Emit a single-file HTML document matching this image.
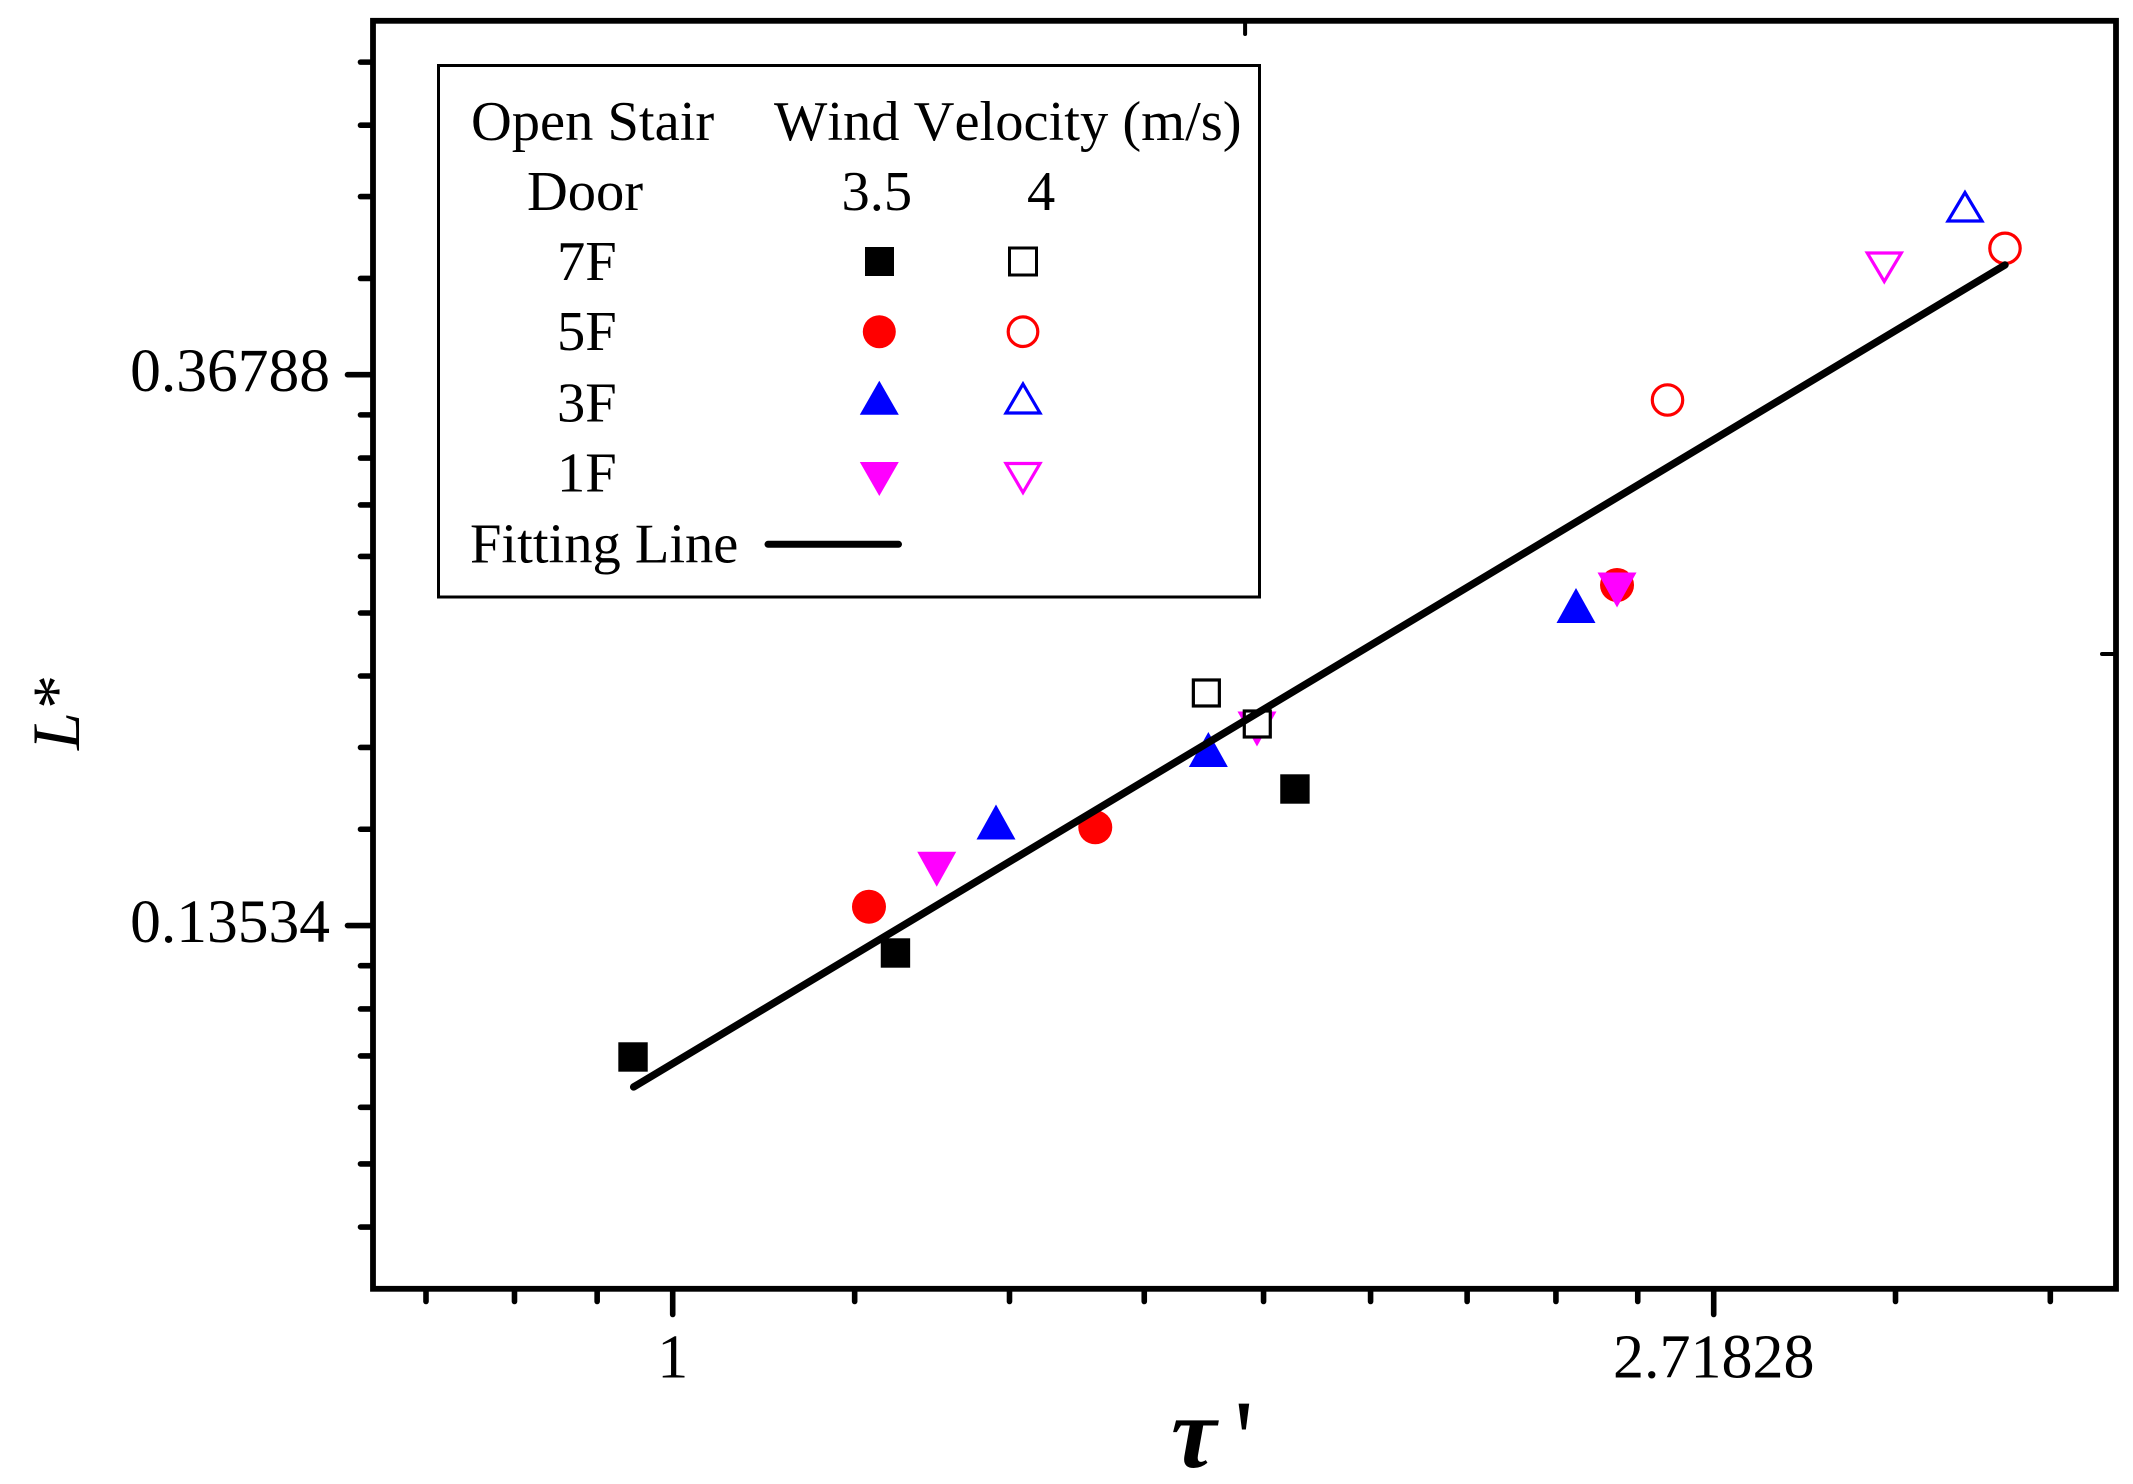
<!DOCTYPE html>
<html lang="en">
<head>
<meta charset="utf-8">
<title>L* versus tau prime</title>
<style>
  html, body { margin: 0; padding: 0; background: #fff; }
  svg { display: block; }
  text { font-family: "Liberation Serif", "DejaVu Serif", serif; fill: #000; font-kerning: none; font-variant-ligatures: none; }
</style>
</head>
<body>
<svg id="chart" xmlns="http://www.w3.org/2000/svg" width="2133" height="1484" viewBox="0 0 2133 1484">
  <rect x="0" y="0" width="2133" height="1484" fill="#fff"/>
  <g id="ticks"></g>
  <g id="marks"></g>
  <rect x="373" y="20.8" width="1743" height="1268" fill="none" stroke="#000" stroke-width="5.8"/>
  <g id="tick-labels"></g>

  <text transform="translate(79 750) rotate(-90)" font-size="68" font-style="italic">L*</text>
  <text x="1171" y="1467" font-size="102" font-style="italic" font-weight="bold">τ</text>
  <text x="1234" y="1476" font-size="110">'</text>

  <g>
    <rect x="438.5" y="65.5" width="821" height="531.5" fill="#fff" stroke="#000" stroke-width="3"/>
    <g font-size="56.5">
      <text x="471" y="140">Open Stair</text>
      <text x="774" y="140">Wind Velocity (m/s)</text>
      <text x="527" y="210">Door</text>
      <text x="841.5" y="210">3.5</text>
      <text x="1027" y="210">4</text>
      <text x="557" y="280">7F</text>
      <text x="557" y="350">5F</text>
      <text x="557" y="421.5">3F</text>
      <text x="557" y="491.5">1F</text>
      <text x="470" y="562.5">Fitting Line</text>
    </g>
    <rect x="865" y="247" width="29" height="29" fill="#000"/>
    <rect x="1009.5" y="248" width="27" height="27" fill="#fff" stroke="#000" stroke-width="3"/>
    <circle cx="879.3" cy="331.7" r="16.5" fill="#f00"/>
    <circle cx="1023" cy="331.7" r="14.8" fill="#fff" stroke="#f00" stroke-width="3.2"/>
    <polygon points="879.3,380.7 898.8,414.7 859.8,414.7" fill="#00f"/>
    <polygon points="1023,384 1040,413 1006,413" fill="#fff" stroke="#00f" stroke-width="3.2"/>
    <polygon points="859.8,462 898.8,462 879.3,496" fill="#f0f"/>
    <polygon points="1006,463.5 1040,463.5 1023,492.5" fill="#fff" stroke="#f0f" stroke-width="3.2"/>
    <line x1="768" y1="544.3" x2="898.5" y2="544.3" stroke="#000" stroke-width="7" stroke-linecap="round"/>
  </g>
</svg>
<script>
// Axis tick values (natural-log axes)
const xMajorTicks = [1, 2.71828];
const xMajorLabels = ["1", "2.71828"];
const xMinorTicks = [0.789, 0.859, 0.93, 1.191, 1.382, 1.573, 1.764, 1.955, 2.145, 2.336, 2.527, 3.237, 3.756];
const yMajorTicks = [0.36788, 0.13534];
const yMajorLabels = ["0.36788", "0.13534"];
const yMinorTicks = [0.6488, 0.5786, 0.5083, 0.4381, 0.3420, 0.3162, 0.2904, 0.2645, 0.2387, 0.2129, 0.1870, 0.1612, 0.12583, 0.11633, 0.10682, 0.09731, 0.08781, 0.0783];
const xStrayTick = [1.733];
const yStrayTick = [0.2216];

// Series: tau' values and L* values
const tau7F35 = [0.9626, 1.2386, 1.8180];
const lum7F35 = [0.10662, 0.12877, 0.17342];
const tau5F35 = [1.2075, 1.5007, 2.4772];
const lum5F35 = [0.14006, 0.16177, 0.25114];
const tau3F35 = [1.3642, 1.6729, 2.3815];
const lum3F35 = [0.16334, 0.18631, 0.24197];
const tau1F35 = [1.2887, 1.7529, 2.4772];
const lum1F35 = [0.14990, 0.19338, 0.24888];
const tau7F4 = [1.6697, 1.7534];
const lum7F4 = [0.20644, 0.19514];
const tau5F4 = [2.6003, 3.5960];
const lum5F4 = [0.35137, 0.46275];
const tau3F4 = [3.4604];
const lum3F4 = [0.49966];
const tau1F4 = [3.2023];
const lum1F4 = [0.44651];
const fitTau = [0.9632, 3.5960];
const fitLum = [0.10097, 0.44894];

const NS = "http://www.w3.org/2000/svg";
function xScale(v) { return 672.7 + 1041 * Math.log(v); }
function yScale(v) { return 374.7 + 550.9 * (-1 - Math.log(v)); }
function make(tag, attrs, parent) {
  const el = document.createElementNS(NS, tag);
  for (const k in attrs) el.setAttribute(k, attrs[k]);
  parent.appendChild(el);
  return el;
}

const tickGroup = document.getElementById("ticks");
const labelGroup = document.getElementById("tick-labels");
const markGroup = document.getElementById("marks");
const tickStyle = { stroke: "#000", "stroke-width": 5.6, "stroke-linecap": "round" };

xMinorTicks.forEach(function (v) {
  const el = make("line", Object.assign({ x1: xScale(v), x2: xScale(v), y1: 1290, y2: 1301.5 }, tickStyle), tickGroup);
  
  
});
xMajorTicks.forEach(function (v, i) {
  const el = make("line", Object.assign({ x1: xScale(v), x2: xScale(v), y1: 1290, y2: 1314.5 }, tickStyle), tickGroup);
  
  
  const t = make("text", { x: xScale(v), y: 1377.5, "font-size": 62, "text-anchor": "middle" }, labelGroup);
  t.textContent = xMajorLabels[i];
  
  
});
yMinorTicks.forEach(function (v) {
  const el = make("line", Object.assign({ x1: 372, x2: 360.5, y1: yScale(v), y2: yScale(v) }, tickStyle), tickGroup);
  
  
});
yMajorTicks.forEach(function (v, i) {
  const tick = make("line", Object.assign({ x1: 372, x2: 347.5, y1: yScale(v), y2: yScale(v) }, tickStyle), tickGroup);
  
  
  const t = make("text", { x: 330, y: yScale(v) + 16.5, "font-size": 61.5, "text-anchor": "end" }, labelGroup);
  t.textContent = yMajorLabels[i];
  
  
});
xStrayTick.forEach(function (v) {
  const el = make("line", { x1: xScale(v), x2: xScale(v), y1: 23, y2: 34, stroke: "#000", "stroke-width": 4, "stroke-linecap": "round" }, tickGroup);
  
  
});
yStrayTick.forEach(function (v) {
  const el = make("line", { x1: 2114, x2: 2102, y1: yScale(v), y2: yScale(v), stroke: "#000", "stroke-width": 4, "stroke-linecap": "round" }, tickGroup);
  
  
});

function solidSquare(taus, lums, name) {
  taus.forEach(function (t, i) {
    const cx = xScale(t), cy = yScale(lums[i]);
    const el = make("rect", { x: cx - 14.7, y: cy - 14.7, width: 29.4, height: 29.4, fill: "#000" }, markGroup);
    
    
  });
}
function openSquare(taus, lums, name) {
  taus.forEach(function (t, i) {
    const cx = xScale(t), cy = yScale(lums[i]);
    const el = make("rect", { x: cx - 13, y: cy - 13, width: 26, height: 26, fill: "#fff", stroke: "#000", "stroke-width": 3.2 }, markGroup);
    
    
  });
}
function solidCircle(taus, lums, name) {
  taus.forEach(function (t, i) {
    const el = make("circle", { cx: xScale(t), cy: yScale(lums[i]), r: 17, fill: "#f00" }, markGroup);
    
    
  });
}
function openCircle(taus, lums, name) {
  taus.forEach(function (t, i) {
    const el = make("circle", { cx: xScale(t), cy: yScale(lums[i]), r: 15.2, fill: "#fff", stroke: "#f00", "stroke-width": 3.2 }, markGroup);
    
    
  });
}
function triangle(taus, lums, name, dir, open, color) {
  taus.forEach(function (t, i) {
    const cx = xScale(t), cy = yScale(lums[i]);
    const w = open ? 17 : 19.5;
    const tip = open ? 13.5 : 17.5;
    const base = open ? 15 : 17.5;
    const pts = [cx, cy - dir * tip, cx + w, cy + dir * base, cx - w, cy + dir * base].join(" ");
    const el = make("polygon", open
      ? { points: pts, fill: "#fff", stroke: color, "stroke-width": 3.2 }
      : { points: pts, fill: color }, markGroup);
    
    
  });
}

solidSquare(tau7F35, lum7F35, 'point-7f-3-5');
solidCircle(tau5F35, lum5F35, 'point-5f-3-5');
triangle(tau3F35, lum3F35, 'point-3f-3-5', 1, false, "#00f");
triangle(tau1F35, lum1F35, 'point-1f-3-5', -1, false, "#f0f");
openSquare(tau7F4, lum7F4, 'point-7f-4');
openCircle(tau5F4, lum5F4, 'point-5f-4');
triangle(tau3F4, lum3F4, 'point-3f-4', 1, true, "#00f");
triangle(tau1F4, lum1F4, 'point-1f-4', -1, true, "#f0f");

const fitPoints = fitTau.map(function (t, i) { return xScale(t) + "," + yScale(fitLum[i]); }).join(" ");
const fitLine = make("polyline", { points: fitPoints, fill: "none", stroke: "#000", "stroke-width": 7.4, "stroke-linecap": "round" }, markGroup);


</script>
</body>
</html>
